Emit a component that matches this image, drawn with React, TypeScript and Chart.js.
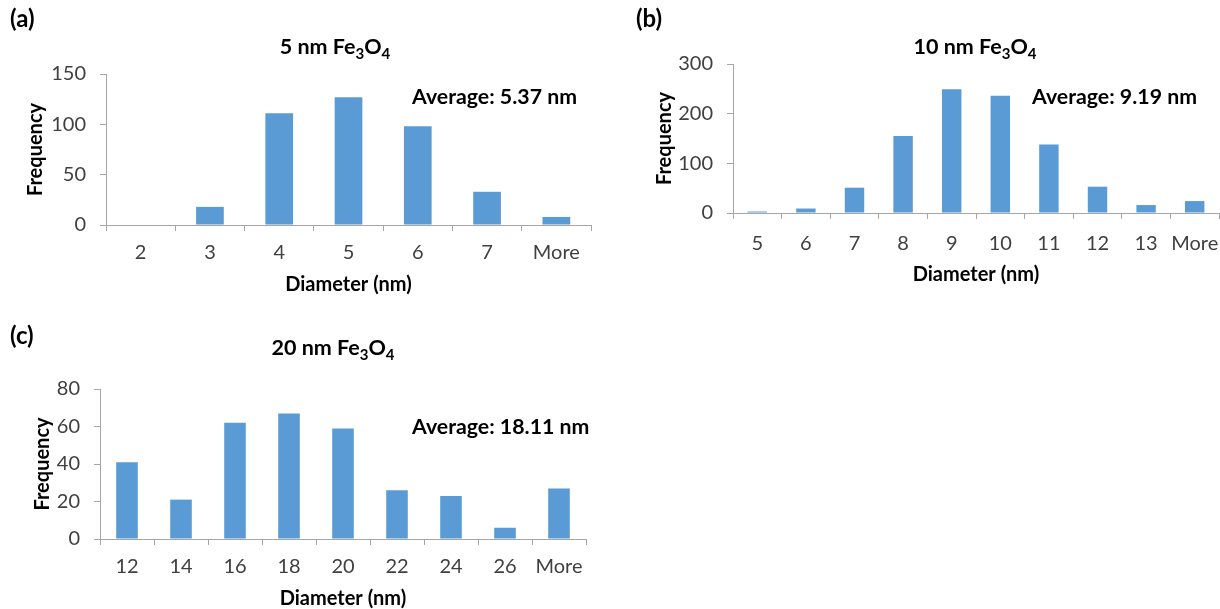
import React, { useEffect, useRef } from "react";
import { Chart, registerables } from "chart.js";
Chart.register(...registerables);

// ---- data ----
const labelsA = ["2", "3", "4", "5", "6", "7", "More"];
const valuesA = [0, 18, 111, 127, 98, 33, 8];
const labelsB = ["5", "6", "7", "8", "9", "10", "11", "12", "13", "More"];
const valuesB = [3, 9, 51, 155, 249, 236, 138, 53, 16, 24];
const labelsC = ["12", "14", "16", "18", "20", "22", "24", "26", "More"];
const valuesC = [41, 21, 62, 67, 59, 26, 23, 6, 27];
const yMaxA = 150, yStepA = 50;
const yMaxB = 300, yStepB = 100;
const yMaxC = 80, yStepC = 20;
const titleSizes = ["5", "10", "20"];
const averages = ["Average: 5.37 nm", "Average: 9.19 nm", "Average: 18.11 nm"];
const letters = ["(a)", "(b)", "(c)"];
const xTitle = "Diameter (nm)";
const yTitle = "Frequency";

const BAR = "#5B9BD5";
const AXIS = "#A6A6A6";
const TICK = "#404040";
const FONT = "Lato, 'Open Sans', sans-serif";

type PanelCfg = {
  left: number; top: number; width: number; height: number;
  area: { left: number; top: number; right: number; bottom: number };
  padL: number; xH: number; tickPad: number;
  labels: string[]; values: number[]; max: number; step: number;
  idx: number;
  titleX: number; titleY: number;
  avgX: number; avgY: number;
  letterX: number; letterY: number;
};

const panels: PanelCfg[] = [
  {
    left: 0, top: 0, width: 600, height: 300,
    area: { left: 106, top: 74, right: 591, bottom: 225 },
    padL: 20, xH: 72, tickPad: 10,
    labels: labelsA, values: valuesA, max: yMaxA, step: yStepA, idx: 0,
    titleX: 335, titleY: 47, avgX: 412, avgY: 97, letterX: 10, letterY: 18,
  },
  {
    left: 620, top: 0, width: 600, height: 300,
    area: { left: 113, top: 64, right: 599, bottom: 213 },
    padL: 29, xH: 74, tickPad: 13,
    labels: labelsB, values: valuesB, max: yMaxB, step: yStepB, idx: 1,
    titleX: 975, titleY: 47, avgX: 1032, avgY: 97, letterX: 636, letterY: 18,
  },
  {
    left: 0, top: 305, width: 620, height: 304,
    area: { left: 100, top: 84, right: 586, bottom: 234 },
    padL: 27, xH: 72, tickPad: 10,
    labels: labelsC, values: valuesC, max: yMaxC, step: yStepC, idx: 2,
    titleX: 333, titleY: 348, avgX: 412, avgY: 427, letterX: 10, letterY: 335,
  },
];

function Panel({ cfg }: { cfg: PanelCfg }) {
  const ref = useRef<HTMLCanvasElement | null>(null);
  useEffect(() => {
    if (!ref.current) return;
    const a = cfg.area;
    const yW = a.left - cfg.padL;
    const padB = cfg.height - a.bottom - cfg.xH;
    const chart = new Chart(ref.current, {
      type: "bar",
      data: {
        labels: cfg.labels,
        datasets: [
          {
            data: cfg.values,
            backgroundColor: BAR,
            borderWidth: 0,
            barPercentage: 0.4,
            categoryPercentage: 1,
          },
        ],
      },
      options: {
        animation: false,
        responsive: false,
        maintainAspectRatio: false,
        layout: {
          padding: { left: cfg.padL, top: a.top, right: cfg.width - a.right, bottom: padB },
        },
        plugins: {
          legend: { display: false },
          tooltip: { enabled: false },
          title: { display: false },
        },
        scales: {
          x: {
            offset: true,
            grid: { offset: true, drawOnChartArea: false, drawTicks: true, tickLength: 6, color: AXIS },
            border: { color: AXIS, width: 1 },
            ticks: { color: TICK, font: { family: FONT, size: 20 }, padding: cfg.tickPad, maxRotation: 0, autoSkip: false },
            title: {
              display: true, text: xTitle, color: "#000",
              font: { family: FONT, size: 20, weight: "bold" }, padding: { top: 0, bottom: 0 },
            },
            afterFit: (s: any) => { s.height = cfg.xH; s.paddingLeft = 0; s.paddingRight = 0; },
          },
          y: {
            min: 0, max: cfg.max,
            ticks: { stepSize: cfg.step, color: TICK, font: { family: FONT, size: 20 }, padding: 14 },
            grid: { drawOnChartArea: false, drawTicks: true, tickLength: 6, color: AXIS },
            border: { color: AXIS, width: 1 },
            title: {
              display: true, text: yTitle, color: "#000",
              font: { family: FONT, size: 20, weight: "bold" }, padding: { top: 4, bottom: 4 },
            },
            afterFit: (s: any) => { s.width = yW; s.paddingTop = 0; s.paddingBottom = 0; },
          },
        },
      },
    } as any);
    return () => chart.destroy();
  }, [cfg]);
  return (
    <div style={{ position: "absolute", left: cfg.left, top: cfg.top, width: cfg.width, height: cfg.height }}>
      <canvas ref={ref} width={cfg.width} height={cfg.height} style={{ width: cfg.width, height: cfg.height, display: "block" }} />
    </div>
  );
}

function Texts({ cfg }: { cfg: PanelCfg }) {
  const base: React.CSSProperties = {
    position: "absolute", fontFamily: FONT, fontWeight: 700, color: "#000",
    lineHeight: 1, whiteSpace: "nowrap",
  };
  const sub: React.CSSProperties = { fontSize: 15, verticalAlign: -5, lineHeight: 0 };
  return (
    <>
      <div style={{ ...base, left: cfg.letterX, top: cfg.letterY, transform: "translateY(-50%)", fontSize: 24 }}>
        {letters[cfg.idx]}
      </div>
      <div style={{ ...base, left: cfg.titleX, top: cfg.titleY, transform: "translate(-50%,-50%)", fontSize: 21.5 }}>
        {titleSizes[cfg.idx]} nm Fe<sub style={sub}>3</sub>O<sub style={sub}>4</sub>
      </div>
      <div style={{ ...base, left: cfg.avgX, top: cfg.avgY, transform: "translateY(-50%)", fontSize: 21.3 }}>
        {averages[cfg.idx]}
      </div>
    </>
  );
}

export default function App() {
  return (
    <div style={{ position: "absolute", left: 0, top: 0, width: 1220, height: 609, background: "#fff", overflow: "hidden" }}>
      {panels.map((p) => (
        <Panel key={"c" + p.idx} cfg={p} />
      ))}
      {panels.map((p) => (
        <Texts key={"t" + p.idx} cfg={p} />
      ))}
    </div>
  );
}
